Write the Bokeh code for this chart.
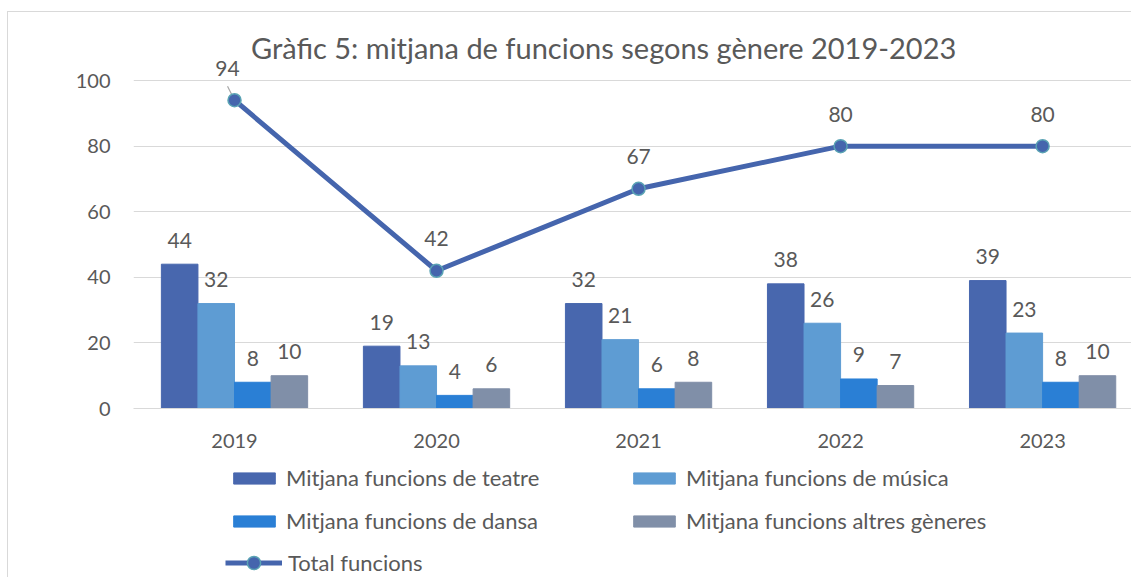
from bokeh.plotting import figure
from bokeh.layouts import column
from bokeh.models import (ColumnDataSource, Legend, LegendItem, FixedTicker, Label, Range1d)
from bokeh.core.properties import value
from bokeh.embed import file_html
from bokeh.resources import INLINE

# ---- data ----
years = ["2019", "2020", "2021", "2022", "2023"]
teatre = [44, 19, 32, 38, 39]
musica = [32, 13, 21, 26, 23]
dansa = [8, 4, 6, 9, 8]
altres = [10, 6, 8, 7, 10]
total = [94, 42, 67, 80, 80]
series_names = ["Mitjana funcions de teatre", "Mitjana funcions de música",
                "Mitjana funcions de dansa", "Mitjana funcions altres gèneres"]
total_name = "Total funcions"
title_text = "Gràfic 5: mitjana de funcions segons gènere 2019-2023"

# ---- styles ----
FONT = "Lato"
TXT = "#595959"
GRID = "#d9d9d9"
colors = ["#4867AE", "#5E9CD3", "#2A7FD5", "#808FA8"]
LINE = "#4565AD"
MARK_EDGE = "#5AA3B4"
BAR_W = 0.181
W = 1123

xs = list(range(len(years)))
all_series = [teatre, musica, dansa, altres]

p = figure(width=W, height=448, output_backend="svg", toolbar_location=None,
           x_range=Range1d(-0.5, 4.44), y_range=Range1d(0, 118),
           min_border_left=125, min_border_right=0, min_border_top=9,
           min_border_bottom=52, outline_line_color=None,
           background_fill_color="white", border_fill_color="white")

# axes
p.yaxis.ticker = FixedTicker(ticks=[0, 20, 40, 60, 80, 100])
p.xaxis.ticker = FixedTicker(ticks=xs)
p.xaxis.major_label_overrides = {i: y for i, y in enumerate(years)}
for ax in (p.xaxis[0], p.yaxis[0]):
    ax.major_tick_line_color = None
    ax.minor_tick_line_color = None
    ax.major_tick_out = 0
    ax.major_tick_in = 0
    ax.major_label_text_font = FONT
    ax.major_label_text_font_size = "20px"
    ax.major_label_text_color = TXT
p.yaxis.axis_line_color = None
p.xaxis.axis_line_color = GRID
p.xaxis.major_label_standoff = 25
p.yaxis.major_label_standoff = 23
p.xgrid.grid_line_color = None
p.ygrid.grid_line_color = GRID
p.ygrid.ticker = FixedTicker(ticks=[0, 20, 40, 60, 80, 100])

# bars
for k, (vals, col) in enumerate(zip(all_series, colors)):
    off = (k - 1.5) * BAR_W
    src = ColumnDataSource(dict(x=[x + off for x in xs], top=vals,
                                lbl=[str(v) for v in vals]))
    p.vbar(x="x", top="top", bottom=0, width=BAR_W, source=src,
           fill_color=col, line_color=col)
    p.text(x="x", y="top", text="lbl", source=src, text_align="center",
           text_baseline="middle", y_offset=-24, text_font=value(FONT),
           text_font_size="21px", text_color=TXT)

# line
lsrc = ColumnDataSource(dict(x=xs, y=total, lbl=[str(v) for v in total],
                             dx=[-7, 0, 0, 0, 0]))
px_x = 202.0
px_y = 3.28
p.segment(x0=[xs[0] - 7 / px_x], y0=[total[0] + 14 / px_y], x1=[xs[0]], y1=[total[0]],
          line_color="#a6a6a6", line_width=1.2)
p.line(x="x", y="y", source=lsrc, line_color=LINE, line_width=5)
p.scatter(x="x", y="y", source=lsrc, size=13, fill_color=LINE,
          line_color=MARK_EDGE, line_width=1.5)
p.text(x="x", y="y", text="lbl", source=lsrc, x_offset="dx", text_align="center",
       text_baseline="middle", y_offset=-32, text_font=value(FONT),
       text_font_size="21px", text_color=TXT)

# title
p.add_layout(Label(x=1.827, y=110, text=title_text, text_align="center",
                   text_baseline="middle", text_font=FONT, text_font_size="29px",
                   text_color=TXT))

# ---- legend panel (separate figure below; proxy renderers lie outside its range) ----
lg = figure(width=W, height=117, output_backend="svg", toolbar_location=None,
            x_range=Range1d(-100, -99), y_range=Range1d(-100, -99),
            min_border=0, min_border_left=125, min_border_right=0,
            min_border_top=0, min_border_bottom=0,
            outline_line_color=None, x_axis_location=None,
            y_axis_location=None, background_fill_color="white",
            border_fill_color="white")
lg.grid.visible = False
legend_rs = []
for vals, col in zip(all_series, colors):
    legend_rs.append(lg.vbar(x=xs, top=vals, width=BAR_W, fill_color=col, line_color=col))
l_line = lg.line(x=xs, y=total, line_color=LINE, line_width=5)
l_mark = lg.scatter(x=xs, y=total, size=13, fill_color=LINE, line_color=MARK_EDGE,
                    line_width=1.5)
it = [LegendItem(label=n, renderers=[r]) for n, r in zip(series_names, legend_rs)]
# column-major fill with 2 columns -> order so that rows read like the reference
common = dict(padding=0, margin=0, border_line_color=None, background_fill_alpha=0,
              label_text_font=FONT, label_text_font_size="22px",
              label_text_color=TXT, label_standoff=6)
legend = Legend(items=[it[0], it[2], it[1], it[3]], ncols=2, location=(95, 43),
                glyph_width=52, glyph_height=14, label_height=23, label_width=326,
                spacing=16, **common)
lg.add_layout(legend, "center")
legend2 = Legend(items=[LegendItem(label=total_name, renderers=[l_line, l_mark])],
                 location=(92, -2), glyph_width=57, glyph_height=33,
                 label_height=23, **common)
lg.add_layout(legend2, "center")

layout = column(p, lg, spacing=0)
layout.margin = (11, 0, 0, 7)
layout.styles = {"border-top": "1px solid #d9d9d9", "border-left": "1px solid #d9d9d9"}

open("out.html", "w").write(file_html(layout, INLINE))
